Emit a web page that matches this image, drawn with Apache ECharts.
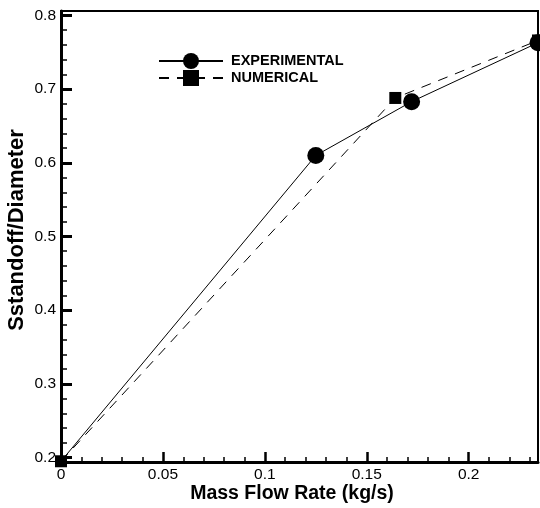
<!DOCTYPE html>
<html>
<head>
<meta charset="utf-8">
<script src="https://cdn.jsdelivr.net/npm/echarts@6/dist/echarts.min.js"></script>
<style>
  html, body { margin: 0; padding: 0; background: #fff; }
  #chart { width: 540px; height: 508px; }
</style>
</head>
<body>
<div id="chart"></div>
<script>
// data
var expFlow = [0, 0.125, 0.172, 0.234];
var expRatio = [0.195, 0.61, 0.683, 0.763];
var numFlow = [0, 0.164, 0.234];
var numRatio = [0.195, 0.688, 0.766];

// tick labels
var xMajor = [0, 0.05, 0.1, 0.15, 0.2];
var xMinor = [0.01, 0.02, 0.03, 0.04, 0.06, 0.07, 0.08, 0.09, 0.11, 0.12, 0.13, 0.14, 0.16, 0.17, 0.18, 0.19, 0.21, 0.22, 0.23];
var yMajor = [0.2, 0.3, 0.4, 0.5, 0.6, 0.7, 0.8];
var yMinor = [0.22, 0.24, 0.26, 0.28, 0.32, 0.34, 0.36, 0.38, 0.42, 0.44, 0.46, 0.48,
  0.52, 0.54, 0.56, 0.58, 0.62, 0.64, 0.66, 0.68, 0.72, 0.74, 0.76, 0.78];

var FONT = '"Liberation Sans", Arial, sans-serif';

function pairs(xs, ys) {
  return xs.map(function (x, i) { return [x, ys[i]]; });
}

var chart = echarts.init(document.getElementById('chart'), null, { renderer: 'canvas' });

var expData = pairs(expFlow, expRatio);
// the first experimental marker is not drawn in the reference
expData[0] = { value: expData[0], symbolSize: 0 };

var option = {
  backgroundColor: '#ffffff',
  animation: false,
  textStyle: { fontFamily: FONT, color: '#000' },
  grid: {
    left: 61, right: 2, top: 11, bottom: 46,
    show: true, borderColor: '#000', borderWidth: 2, backgroundColor: 'transparent'
  },
  legend: {
    orient: 'vertical',
    left: 153,
    top: 48,
    itemWidth: 64,
    itemHeight: 20,
    itemGap: 1,
    textStyle: { fontFamily: FONT, fontWeight: 'bold', fontSize: 14.5, color: '#000', padding: [0, 0, 0, 3] },
    data: ['EXPERIMENTAL', 'NUMERICAL']
  },
  xAxis: [{
    type: 'value', min: 0, max: 0.234,
    splitLine: { show: false },
    axisLine: { lineStyle: { color: '#000', width: 3 } },
    axisTick: { inside: true, length: 10, lineStyle: { color: '#000', width: 2.5 }, customValues: xMajor },
    axisLabel: { customValues: xMajor, color: '#000', fontSize: 15.5, fontFamily: FONT, margin: 5,
      formatter: function (v) { return String(+v.toFixed(2)); } }
  }, {
    type: 'value', min: 0, max: 0.234, position: 'bottom',
    splitLine: { show: false },
    axisLine: { show: false },
    axisTick: { inside: true, length: 5, lineStyle: { color: '#000', width: 1.5 }, customValues: xMinor },
    axisLabel: { show: false }
  }],
  yAxis: [{
    type: 'value', min: 0.194, max: 0.806,
    splitLine: { show: false },
    axisLine: { lineStyle: { color: '#000', width: 3 } },
    axisTick: { inside: true, length: 11, lineStyle: { color: '#000', width: 3 }, customValues: yMajor },
    axisLabel: { customValues: yMajor, color: '#000', fontSize: 15.5, fontFamily: FONT, margin: 5,
      formatter: function (v) { return String(+v.toFixed(1)); } }
  }, {
    type: 'value', min: 0.194, max: 0.806, position: 'left',
    splitLine: { show: false },
    axisLine: { show: false },
    axisTick: { inside: true, length: 6, lineStyle: { color: '#000', width: 1.5 }, customValues: yMinor },
    axisLabel: { show: false }
  }],
  graphic: [{
    type: 'text', x: 292, y: 494,
    style: { text: 'Mass Flow Rate (kg/s)', font: 'bold 19.5px ' + FONT, fill: '#000', align: 'center', verticalAlign: 'middle' }
  }, {
    type: 'text', x: 17, y: 230, rotation: Math.PI / 2,
    style: { text: 'Sstandoff/Diameter', font: 'bold 22px ' + FONT, fill: '#000', align: 'center', verticalAlign: 'middle' }
  }],
  series: [{
    name: 'NUMERICAL',
    type: 'line',
    data: pairs(numFlow, numRatio),
    symbol: 'rect',
    symbolSize: 12,
    clip: false,
    lineStyle: { color: '#000', width: 1, type: [10, 8] },
    itemStyle: { color: '#000' },
    z: 2
  }, {
    name: 'EXPERIMENTAL',
    type: 'line',
    data: expData,
    symbol: 'circle',
    symbolSize: 17,
    clip: false,
    lineStyle: { color: '#000', width: 1 },
    itemStyle: { color: '#000' },
    z: 3
  }]
};

chart.setOption(option);
</script>
</body>
</html>
